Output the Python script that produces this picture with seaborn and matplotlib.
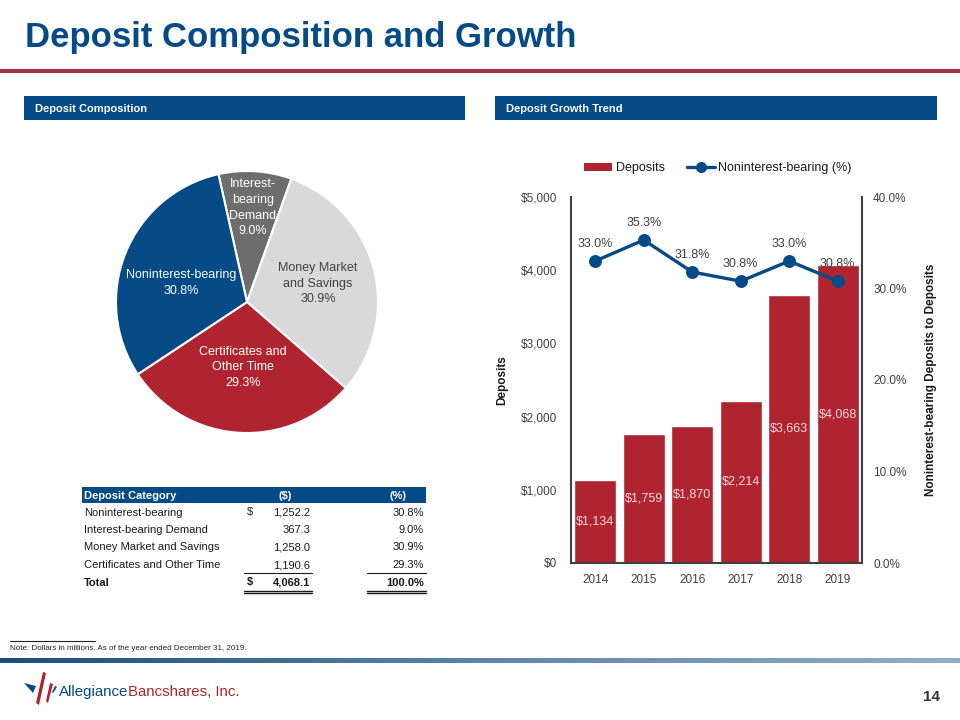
import numpy as np
import pandas as pd
import matplotlib
matplotlib.use("Agg")
import matplotlib.pyplot as plt
from matplotlib.patches import Rectangle, Polygon, Patch
from matplotlib.lines import Line2D
from matplotlib.colors import LinearSegmentedColormap
import seaborn as sns

# ---------------- data ----------------
pie_labels = ["Interest-\nbearing\nDemand", "Money Market\nand Savings",
              "Certificates and\nOther Time", "Noninterest-bearing"]
pie_pcts = [9.0, 30.9, 29.3, 30.8]

table_categories = ["Noninterest-bearing", "Interest-bearing Demand",
                    "Money Market and Savings", "Certificates and Other Time"]
table_amounts = [1252.2, 367.3, 1258.0, 1190.6]
table_pcts = [30.8, 9.0, 30.9, 29.3]
table_total_amount = 4068.1
table_total_pct = 100.0

years = ["2014", "2015", "2016", "2017", "2018", "2019"]
deposits = [1134, 1759, 1870, 2214, 3663, 4068]
nib_pct = [33.0, 35.3, 31.8, 30.8, 33.0, 30.8]

# ---------------- style ----------------
NAVY = "#034A86"
RED = "#AF2430"
REDLINE = "#A3303A"
GRAY = "#6D6D6D"
LGRAY = "#D9D9D9"
TXT = "#404040"

sns.set_theme(style="white")
REG = ["Liberation Sans", "DejaVu Sans"]
NARROW = ["Liberation Sans Narrow", "Liberation Sans", "DejaVu Sans"]
plt.rcParams["font.family"] = REG

fig = plt.figure(figsize=(9.6, 7.2), dpi=100)


def px_axes(x, y, w, h):
    return fig.add_axes([x / 960, 1 - (y + h) / 720, w / 960, h / 720])


# background / decoration layer in pixel coordinates
deco = fig.add_axes([0, 0, 1, 1])
deco.set_xlim(0, 960)
deco.set_ylim(720, 0)
deco.axis("off")

deco.text(25, 37, "Deposit Composition and Growth", fontsize=25, fontweight="bold",
          color=NAVY, va="center", ha="left", family=NARROW)
deco.add_patch(Rectangle((0, 69), 960, 4, color=REDLINE, lw=0))
deco.add_patch(Rectangle((24, 96), 441, 24, color=NAVY, lw=0))
deco.add_patch(Rectangle((495, 96), 442, 24, color=NAVY, lw=0))
deco.text(35, 108.5, "Deposit Composition", fontsize=8, fontweight="bold", color="white",
          va="center", family=NARROW)
deco.text(506, 108.5, "Deposit Growth Trend", fontsize=8, fontweight="bold", color="white",
          va="center", family=NARROW)

# ---------------- table ----------------
TC = "#1a1a1a"
deco.add_patch(Rectangle((82, 487), 344, 16, color=NAVY, lw=0))
hb = 499
deco.text(84, hb, "Deposit Category", fontsize=8, fontweight="bold", color="white", va="baseline")
deco.text(285, hb, "($)", fontsize=8, fontweight="bold", color="white", va="baseline", ha="center")
deco.text(398, hb, "(%)", fontsize=8, fontweight="bold", color="white", va="baseline", ha="center")
y0, step = 515.5, 17.5
for i, (c, a, p) in enumerate(zip(table_categories, table_amounts, table_pcts)):
    y = y0 + step * i
    deco.text(84, y, c, fontsize=8, color=TC, va="baseline")
    if i == 0:
        deco.text(250, y, "$", fontsize=8, color=TC, va="baseline", ha="center")
    deco.text(310, y, f"{a:,.1f}", fontsize=8, color=TC, va="baseline", ha="right")
    deco.text(424, y, f"{p:.1f}%", fontsize=8, color=TC, va="baseline", ha="right")
yt = y0 + step * 4
deco.text(84, yt, "Total", fontsize=8, color=TC, va="baseline", fontweight="bold")
deco.text(250, yt, "$", fontsize=8, color=TC, va="baseline", ha="center", fontweight="bold")
deco.text(310, yt, f"{table_total_amount:,.1f}", fontsize=8, color=TC, va="baseline",
          ha="right", fontweight="bold")
deco.text(424, yt, f"{table_total_pct:.1f}%", fontsize=8, color=TC, va="baseline",
          ha="right", fontweight="bold")
yl = y0 + step * 3 + 5
for xa, xb in [(244, 312), (367, 426)]:
    deco.plot([xa, xb], [yl, yl], color=TC, lw=0.8)
    deco.plot([xa, xb], [yt + 5, yt + 5], color=TC, lw=1.0)
    deco.plot([xa, xb], [yt + 7.5, yt + 7.5], color=TC, lw=1.0)

# ---------------- footer ----------------
deco.plot([10, 95], [641, 641], color="#222222", lw=0.8)
deco.text(10, 649, "Note: Dollars in millions. As of the year ended December 31, 2019.",
          fontsize=5.8, color="#222222", va="center")
grad = np.linspace(0, 1, 256).reshape(1, -1)
cmap = LinearSegmentedColormap.from_list("g", ["#1B4D7E", "#5E84A8", "#94AEC7"])
deco.imshow(grad, cmap=cmap, aspect="auto", extent=[0, 960, 663, 658], zorder=1)
deco.set_xlim(0, 960)
deco.set_ylim(720, 0)

# logo
deco.add_patch(Polygon([(24, 683), (36, 686), (33, 693)], closed=True, color=NAVY, lw=0))
deco.add_patch(Polygon([(43, 672), (46, 673), (39, 705), (36, 703)], closed=True, color=RED, lw=0))
deco.add_patch(Polygon([(50, 683), (53, 684), (48, 703), (46, 701)], closed=True, color=RED, lw=0))
deco.add_patch(Polygon([(55, 686), (57, 687), (53, 693), (52, 692)], closed=True, color=NAVY, lw=0))
t1 = deco.text(59, 692, "Allegiance", fontsize=10.8, color=NAVY, va="center", family=NARROW)
fig.canvas.draw()
bb = t1.get_window_extent().transformed(deco.transData.inverted())
deco.text(bb.x1, 692, "Bancshares, Inc.", fontsize=10.8, color=RED, va="center", family=NARROW)
deco.text(931, 697, "14", fontsize=11, fontweight="bold", color="#333333", va="center", ha="center",
          family=NARROW)

# ---------------- pie ----------------
axp = px_axes(116, 171, 262, 262)
wedge_colors = [GRAY, LGRAY, RED, NAVY]
wedges, _ = axp.pie(pie_pcts, colors=wedge_colors, startangle=102.6, counterclock=False,
                    wedgeprops=dict(edgecolor="white", linewidth=1.5))
axp.set_xlim(-1.0, 1.0)
axp.set_ylim(-1.0, 1.0)
axp.set_aspect("equal")
label_r = [0.72, 0.56, 0.50, 0.52]
label_dang = [0, 0, 0, 6]
label_col = ["white", TXT, "white", "white"]
for w, lab, pct, r, da, col in zip(wedges, pie_labels, pie_pcts, label_r, label_dang, label_col):
    ang = np.deg2rad((w.theta1 + w.theta2) / 2 + da)
    axp.text(r * np.cos(ang), r * np.sin(ang), f"{lab}\n{pct:.1f}%", ha="center", va="center",
             fontsize=9, color=col, family=NARROW, linespacing=1.4)

# ---------------- bar + line ----------------
ax = px_axes(571, 197, 291, 366)
df = pd.DataFrame({"year": years, "deposits": deposits, "nib": nib_pct})
sns.barplot(data=df, x="year", y="deposits", color=RED, saturation=1, width=0.86, ax=ax)
ax.set_ylim(0, 5000)
ax.set_yticks([0, 1000, 2000, 3000, 4000, 5000])
ax.set_yticklabels([f"${v:,.0f}" for v in [0, 1000, 2000, 3000, 4000, 5000]])
ax.bar_label(ax.containers[0], labels=[f"${v:,.0f}" for v in deposits], label_type="center",
             fontsize=9, color="#F6DADA")
ax.set_xlabel("")
ax.set_ylabel("Deposits", fontsize=8.5, fontweight="bold", color="#1a1a1a")
ax.yaxis.set_label_coords(-0.215, 0.5)

ax2 = ax.twinx()
sns.pointplot(data=df, x="year", y="nib", color=NAVY, markers="o", ax=ax2,
              markersize=7.5, linewidth=2.4)
ax2.set_ylim(0, 40)
ax2.set_yticks([0, 10, 20, 30, 40])
ax2.set_yticklabels([f"{v:.1f}%" for v in [0, 10, 20, 30, 40]])
ax2.set_ylabel("Noninterest-bearing Deposits to Deposits", fontsize=8.5, fontweight="bold",
               color="#1a1a1a", family=NARROW)
ax2.yaxis.set_label_coords(1.215, 0.5)
for i, v in enumerate(nib_pct):
    ax2.annotate(f"{v:.1f}%", (i, v), xytext=(0, 8), textcoords="offset points",
                 ha="center", va="bottom", fontsize=9, color=TXT)

for a in (ax, ax2):
    a.spines["top"].set_visible(False)
    for s in a.spines.values():
        s.set_color(TXT)
        s.set_linewidth(1.5)
ax.spines["right"].set_visible(False)
ax2.spines["left"].set_visible(False)
ax2.spines["bottom"].set_visible(False)
ax.tick_params(axis="y", length=0, pad=10, labelsize=8.5, labelcolor=TXT)
ax.tick_params(axis="x", length=0, pad=8, labelsize=8.5, labelcolor=TXT)
ax2.tick_params(axis="y", length=0, pad=8, labelsize=8.5, labelcolor=TXT)
ax.set_xlim(-0.5, 5.5)

handles = [Patch(facecolor=RED, edgecolor="none"),
           Line2D([0], [0], color=NAVY, lw=2.4, marker="o", markersize=7)]
ax2.legend(handles, ["Deposits", "Noninterest-bearing (%)"], loc="center",
           bbox_to_anchor=(0.505, 1.079), ncol=2, frameon=False, fontsize=9,
           handlelength=2.2, handletextpad=0.3, columnspacing=1.8, handleheight=0.6,
           labelcolor="#1a1a1a")

fig.savefig("out.png", dpi=100)
